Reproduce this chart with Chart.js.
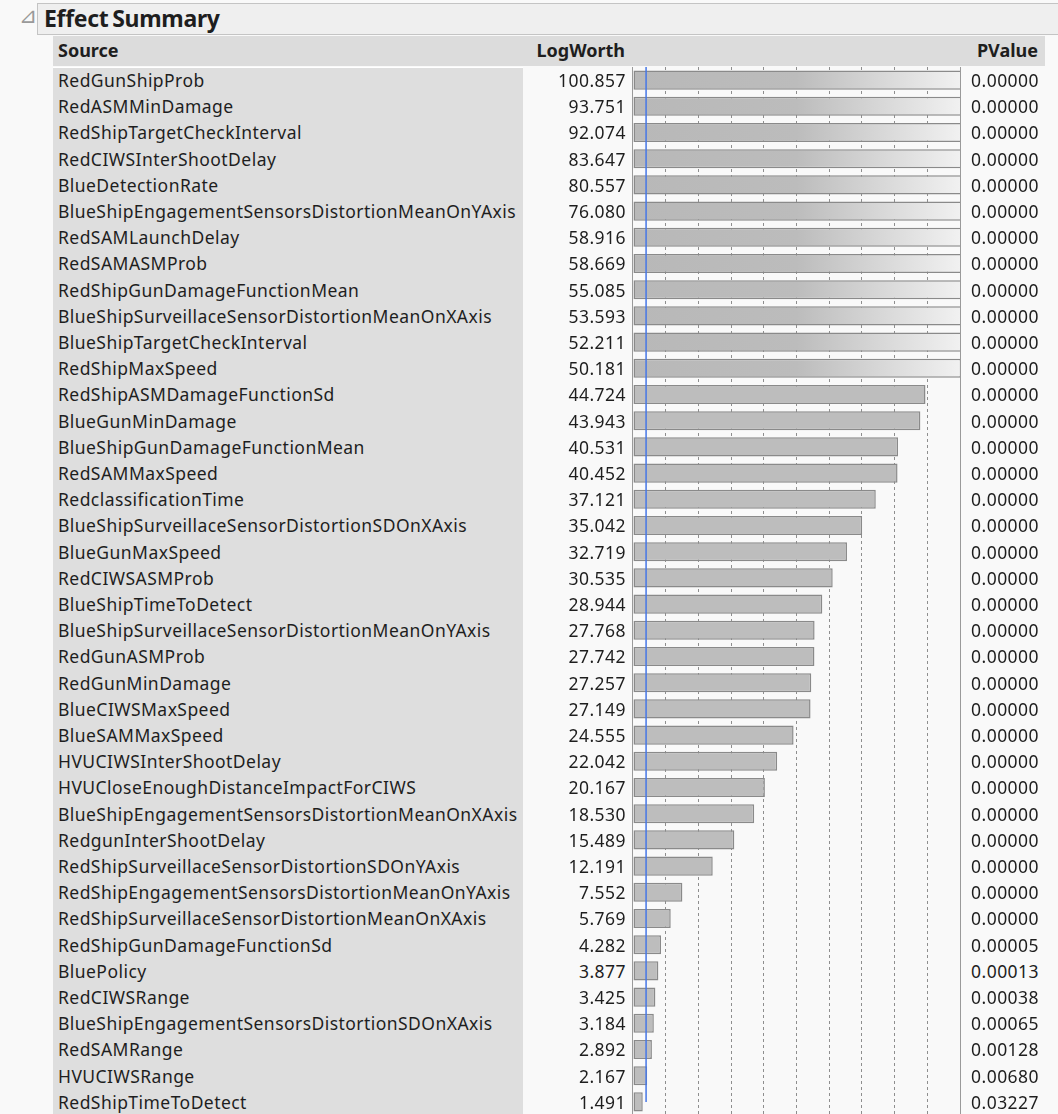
<!DOCTYPE html>
<html lang="en">
<head>
<meta charset="UTF-8">
<title>Effect Summary</title>
<script src="https://cdn.jsdelivr.net/npm/chart.js"></script>
<style>
    body {
        margin: 0;
        width: 1058px;
        height: 1114px;
        overflow: hidden;
        position: relative;
        background: #f9f9f9;
        font-family: "Noto Sans", sans-serif;
        color: #1e1e1e;
    }
    .abs { position: absolute; }
    #tri { left: 19px; top: 3px; font-size: 22px; color: #9a9a9a; font-family: "DejaVu Sans", sans-serif; }
    #titleBar {
        left: 37px; top: 3px; width: 1021px; height: 32px;
        background: #efefef; border: 1px solid #c4c4c4; border-right: none;
        box-sizing: border-box;
    }
    #titleBar span { position: absolute; left: 6px; top: -2px; font-size: 23px; font-weight: bold; letter-spacing: -0.3px; word-spacing: -2px; }
    #headRow { left: 53px; top: 36px; width: 992px; height: 30px; background: #dcdcdc; font-weight: bold; font-size: 18px; }
    #headRow div { position: absolute; top: 2px; }
    #srcCol { left: 53px; top: 67px; width: 470px; height: 1060px; background: #dedede; border-top: 1px solid #fff; box-sizing: border-box; }
    .row { position: absolute; height: 26.2px; line-height: 26.2px; font-size: 17.5px; letter-spacing: 0.45px; white-space: nowrap; }
    .src { left: 58px; }
    .lw { left: 520px; width: 106px; text-align: right; }
    .pv { left: 960px; width: 79px; text-align: right; }
    #barBox { left: 632px; top: 67px; width: 327px; height: 1060px; border-left: 1px solid #9a9a9a; border-right: 1px solid #9a9a9a; }
    #bars { display: block; }
</style>
</head>
<body>
<div id="tri" class="abs">⊿</div>
<div id="titleBar" class="abs"><span>Effect Summary</span></div>
<div id="headRow" class="abs">
    <div style="left:5px">Source</div>
    <div style="right:420px">LogWorth</div>
    <div style="right:7px">PValue</div>
</div>
<div id="srcCol" class="abs"></div>
<div id="barBox" class="abs"><canvas id="bars" width="327" height="1048"></canvas></div>
<div id="rows"></div>

<script>
    const sources = [
        'RedGunShipProb', 'RedASMMinDamage', 'RedShipTargetCheckInterval', 'RedCIWSInterShootDelay',
        'BlueDetectionRate', 'BlueShipEngagementSensorsDistortionMeanOnYAxis', 'RedSAMLaunchDelay',
        'RedSAMASMProb', 'RedShipGunDamageFunctionMean', 'BlueShipSurveillaceSensorDistortionMeanOnXAxis',
        'BlueShipTargetCheckInterval', 'RedShipMaxSpeed', 'RedShipASMDamageFunctionSd', 'BlueGunMinDamage',
        'BlueShipGunDamageFunctionMean', 'RedSAMMaxSpeed', 'RedclassificationTime',
        'BlueShipSurveillaceSensorDistortionSDOnXAxis', 'BlueGunMaxSpeed', 'RedCIWSASMProb',
        'BlueShipTimeToDetect', 'BlueShipSurveillaceSensorDistortionMeanOnYAxis', 'RedGunASMProb',
        'RedGunMinDamage', 'BlueCIWSMaxSpeed', 'BlueSAMMaxSpeed', 'HVUCIWSInterShootDelay',
        'HVUCloseEnoughDistanceImpactForCIWS', 'BlueShipEngagementSensorsDistortionMeanOnXAxis',
        'RedgunInterShootDelay', 'RedShipSurveillaceSensorDistortionSDOnYAxis',
        'RedShipEngagementSensorsDistortionMeanOnYAxis', 'RedShipSurveillaceSensorDistortionMeanOnXAxis',
        'RedShipGunDamageFunctionSd', 'BluePolicy', 'RedCIWSRange',
        'BlueShipEngagementSensorsDistortionSDOnXAxis', 'RedSAMRange', 'HVUCIWSRange', 'RedShipTimeToDetect'
    ];
    const logWorth = [
        100.857, 93.751, 92.074, 83.647, 80.557, 76.080, 58.916, 58.669, 55.085, 53.593,
        52.211, 50.181, 44.724, 43.943, 40.531, 40.452, 37.121, 35.042, 32.719, 30.535,
        28.944, 27.768, 27.742, 27.257, 27.149, 24.555, 22.042, 20.167, 18.530, 15.489,
        12.191, 7.552, 5.769, 4.282, 3.877, 3.425, 3.184, 2.892, 2.167, 1.491
    ];
    const pValues = [
        0, 0, 0, 0, 0, 0, 0, 0, 0, 0,
        0, 0, 0, 0, 0, 0, 0, 0, 0, 0,
        0, 0, 0, 0, 0, 0, 0, 0, 0, 0,
        0, 0, 0, 0.00005, 0.00013, 0.00038, 0.00065, 0.00128, 0.00680, 0.03227
    ];
    const axisMax = 50;
    const refLogWorth = 2;   // p = 0.01

    // text columns, one row per source
    const rowTop = 67, rowH = 1048 / sources.length;
    const rowsDiv = document.getElementById('rows');
    sources.forEach((s, i) => {
        const top = (rowTop + i * rowH) + 'px';
        [['src', s], ['lw', logWorth[i].toFixed(3)], ['pv', pValues[i].toFixed(5)]].forEach(([cls, txt]) => {
            const d = document.createElement('div');
            d.className = 'row ' + cls;
            d.style.top = top;
            d.textContent = txt;
            rowsDiv.appendChild(d);
        });
    });

    const refLine = {
        id: 'refLine',
        afterDatasetsDraw(chart) {
            const ctx = chart.ctx;
            const x = chart.scales.x.getPixelForValue(refLogWorth);
            const yEnd = chart.scales.y.getPixelForValue(sources.length - 1);
            ctx.save();
            ctx.strokeStyle = '#4677e6';
            ctx.lineWidth = 1.5;
            ctx.beginPath();
            ctx.moveTo(x, chart.chartArea.top);
            ctx.lineTo(x, yEnd);
            ctx.stroke();
            ctx.restore();
        }
    };

    function barFill(c) {
        const area = c.chart.chartArea;
        if (c.raw <= axisMax || !area) return '#bdbdbd';
        const g = c.chart.ctx.createLinearGradient(area.left, 0, area.right, 0);
        g.addColorStop(0, '#b8b8b8');
        g.addColorStop(0.5, '#bcbcbc');
        g.addColorStop(1, '#f1f1f1');
        return g;
    }

    new Chart(document.getElementById('bars'), {
        type: 'bar',
        data: {
            labels: sources,
            datasets: [{
                data: logWorth,
                backgroundColor: barFill,
                borderColor: '#8a8a8a',
                borderWidth: 1.5,
                borderSkipped: false,
                barPercentage: 0.73,
                categoryPercentage: 1
            }]
        },
        options: {
            indexAxis: 'y',
            responsive: false,
            animation: false,
            layout: { padding: 0 },
            plugins: { legend: { display: false }, tooltip: { enabled: false } },
            scales: {
                x: {
                    min: 0,
                    max: axisMax,
                    position: 'top',
                    ticks: { display: false, stepSize: 5 },
                    grid: {
                        drawTicks: false,
                        color: c => (c.tick && c.tick.value > 0 && c.tick.value < axisMax) ? '#8e8e8e' : 'rgba(0,0,0,0)'
                    },
                    border: { display: false, dash: [3, 3] }
                },
                y: { display: false }
            }
        },
        plugins: [refLine]
    });
</script>
</body>
</html>
